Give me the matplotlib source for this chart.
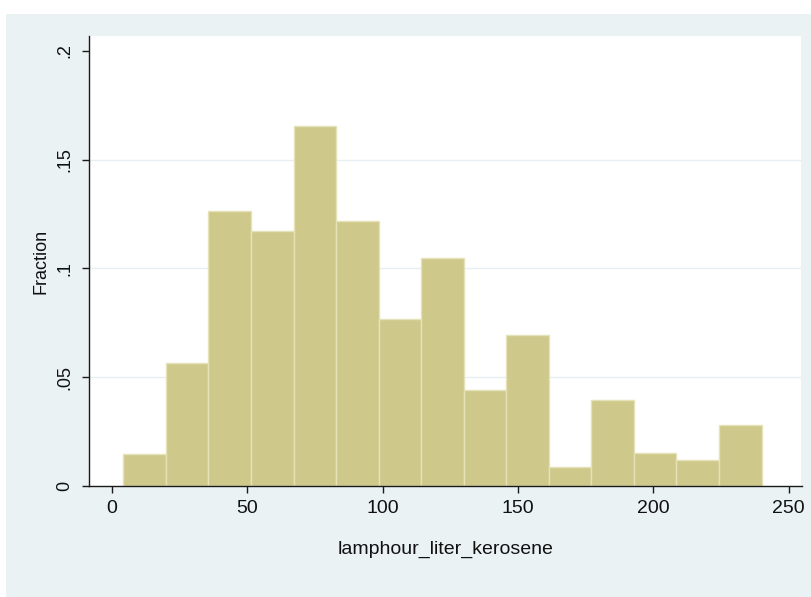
import matplotlib
matplotlib.use("Agg")
import matplotlib.pyplot as plt
from matplotlib.patches import Rectangle
import numpy as np

# Histogram of lamp-hours per liter of kerosene (fraction of observations per bin)
bin_start = 4.3
bin_width = 15.71
fractions = [0.0147, 0.0563, 0.1264, 0.1171, 0.1654, 0.1218, 0.0769, 0.1050,
             0.0443, 0.0692, 0.0086, 0.0397, 0.0150, 0.0121, 0.0279]
x_ticks = [0, 50, 100, 150, 200, 250]
y_ticks = [0, 0.05, 0.10, 0.15, 0.20]
y_tick_labels = ["0", ".05", ".1", ".15", ".2"]
x_title = "lamphour_liter_kerosene"
y_title = "Fraction"

plt.rcParams["font.family"] = ["Liberation Sans", "DejaVu Sans"]

W, H = 812, 597
fig = plt.figure(figsize=(W / 100, H / 100), dpi=100)
fig.patch.set_facecolor("white")

# light blue-grey graph region
fig.add_artist(Rectangle((6 / W, 0), 1, (H - 14) / H, transform=fig.transFigure,
                         facecolor="#eaf2f3", edgecolor="none", zorder=0))

left, right, top, bottom = 89, 801.5, 36, 486
ax = fig.add_axes([left / W, (H - bottom) / H, (right - left) / W, (bottom - top) / H])
ax.set_facecolor("white")

edges = bin_start + bin_width * np.arange(len(fractions))
ax.bar(edges, fractions, width=bin_width, align="edge",
       color="#cec88b", edgecolor="#e6e2b8", linewidth=1.0, zorder=2)

ax.set_xlim(-8.4, 254.7)
ax.set_ylim(0, 0.2068)

for g in y_ticks[1:-1]:
    ax.axhline(g, color="#e6eff1", linewidth=1.0, zorder=1)

ax.set_xticks(x_ticks)
ax.set_xticklabels([str(v) for v in x_ticks])
ax.set_yticks(y_ticks)
ax.set_yticklabels(y_tick_labels, rotation=90, va="center")

for s in ["top", "right"]:
    ax.spines[s].set_visible(False)
for s in ["left", "bottom"]:
    ax.spines[s].set_color("#1a1a1a")
    ax.spines[s].set_linewidth(1.0)

ax.tick_params(axis="both", colors="#1a1a1a", labelcolor="#111111",
               length=5, width=1.0, pad=5)
ax.tick_params(axis="x", labelsize=14)
ax.tick_params(axis="y", labelsize=13, pad=6)

ax.set_xlabel(x_title, fontsize=14, color="#111111", labelpad=17)
ax.set_ylabel(y_title, fontsize=13, color="#111111", labelpad=5)

fig.savefig("out.png", dpi=100, facecolor=fig.get_facecolor())
